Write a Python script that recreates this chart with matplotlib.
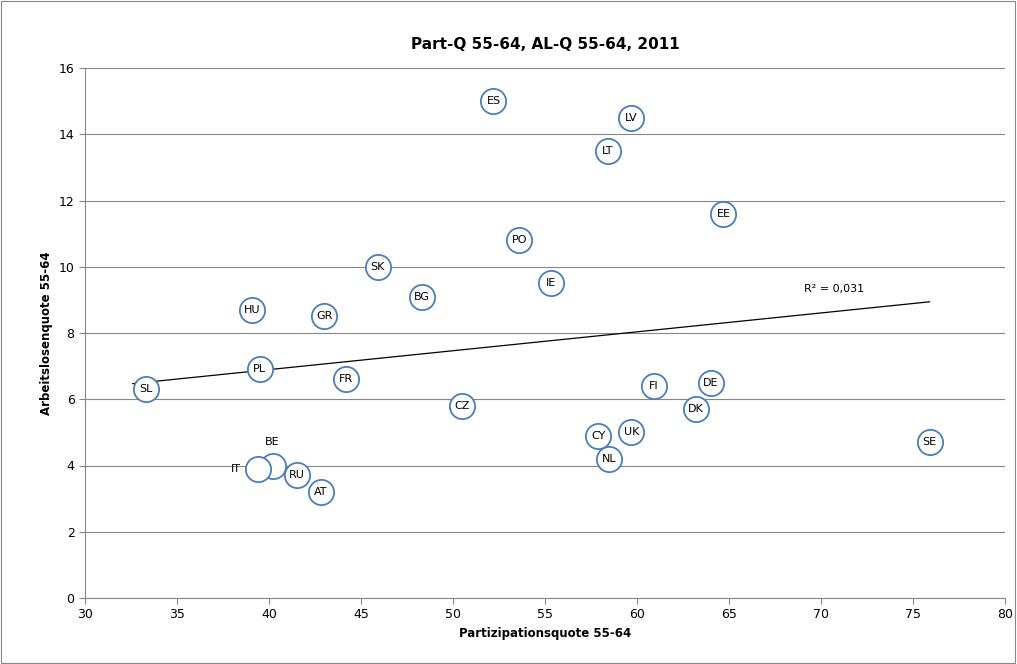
import numpy as np
import matplotlib.pyplot as plt

countries = ["ES", "LV", "LT", "EE", "PO", "SK", "IE", "BG", "HU", "GR", "PL", "FR", "SL",
             "CZ", "FI", "DE", "DK", "CY", "UK", "NL", "SE", "BE", "IT", "RU", "AT"]
part_q = [52.2, 59.7, 58.4, 64.7, 53.6, 45.9, 55.3, 48.3, 39.1, 43.0, 39.5, 44.2, 33.3,
          50.5, 60.9, 64.0, 63.2, 57.9, 59.7, 58.5, 75.9, 40.2, 39.4, 41.5, 42.8]
al_q = [15.0, 14.5, 13.5, 11.6, 10.8, 10.0, 9.5, 9.1, 8.7, 8.5, 6.9, 6.6, 6.3,
        5.8, 6.4, 6.5, 5.7, 4.9, 5.0, 4.2, 4.7, 4.0, 3.9, 3.7, 3.2]

x = np.array(part_q)
y = np.array(al_q)

fig = plt.figure(figsize=(10.17, 6.64), dpi=100)
ax = fig.add_axes([85/1017, 1-598/664, 920/1017, 530/664])

# thin border round the whole chart
fig.patches.append(plt.Rectangle((0.001, 0.001), 0.997, 0.997, transform=fig.transFigure,
                                 fill=False, edgecolor="#868686", linewidth=0.8))

ax.scatter(x, y, s=330, facecolors="white", edgecolors="#4a7ebb", linewidths=1.3, zorder=3)

# labels: most centred in the circle, BE and IT sit outside
for name, xi, yi in zip(countries, x, y):
    if name == "BE":
        ax.text(xi, yi + 0.7, name, ha="center", va="center", fontsize=8, zorder=4)
    elif name == "IT":
        ax.text(xi - 1.2, yi, name, ha="center", va="center", fontsize=8, zorder=4)
    else:
        ax.text(xi, yi, name, ha="center", va="center", fontsize=8, zorder=4)

# linear trend line
k, d = np.polyfit(x, y, 1)
xs = np.array([x.min() - 0.7, x.max()])
ax.plot(xs, k * xs + d, color="black", linewidth=0.9, zorder=2)
ax.text(69.1, 9.25, "R² = 0,031", fontsize=8)

ax.set_xlim(30, 80)
ax.set_ylim(0, 16)
ax.set_xticks(range(30, 81, 5))
ax.set_yticks(range(0, 17, 2))
ax.grid(axis="y", color="#868686", linewidth=0.8)
ax.set_axisbelow(True)
for side in ["top", "right"]:
    ax.spines[side].set_visible(False)
for side in ["left", "bottom"]:
    ax.spines[side].set_color("#868686")
ax.tick_params(colors="black", labelsize=9, length=4, color="#868686")

ax.set_title("Part-Q 55-64, AL-Q 55-64, 2011", fontsize=11, fontweight="bold", pad=14)
ax.set_xlabel("Partizipationsquote 55-64", fontsize=8.5, fontweight="bold")
ax.set_ylabel("Arbeitslosenquote 55-64", fontsize=8.5, fontweight="bold")

fig.savefig("out.png", dpi=100)
